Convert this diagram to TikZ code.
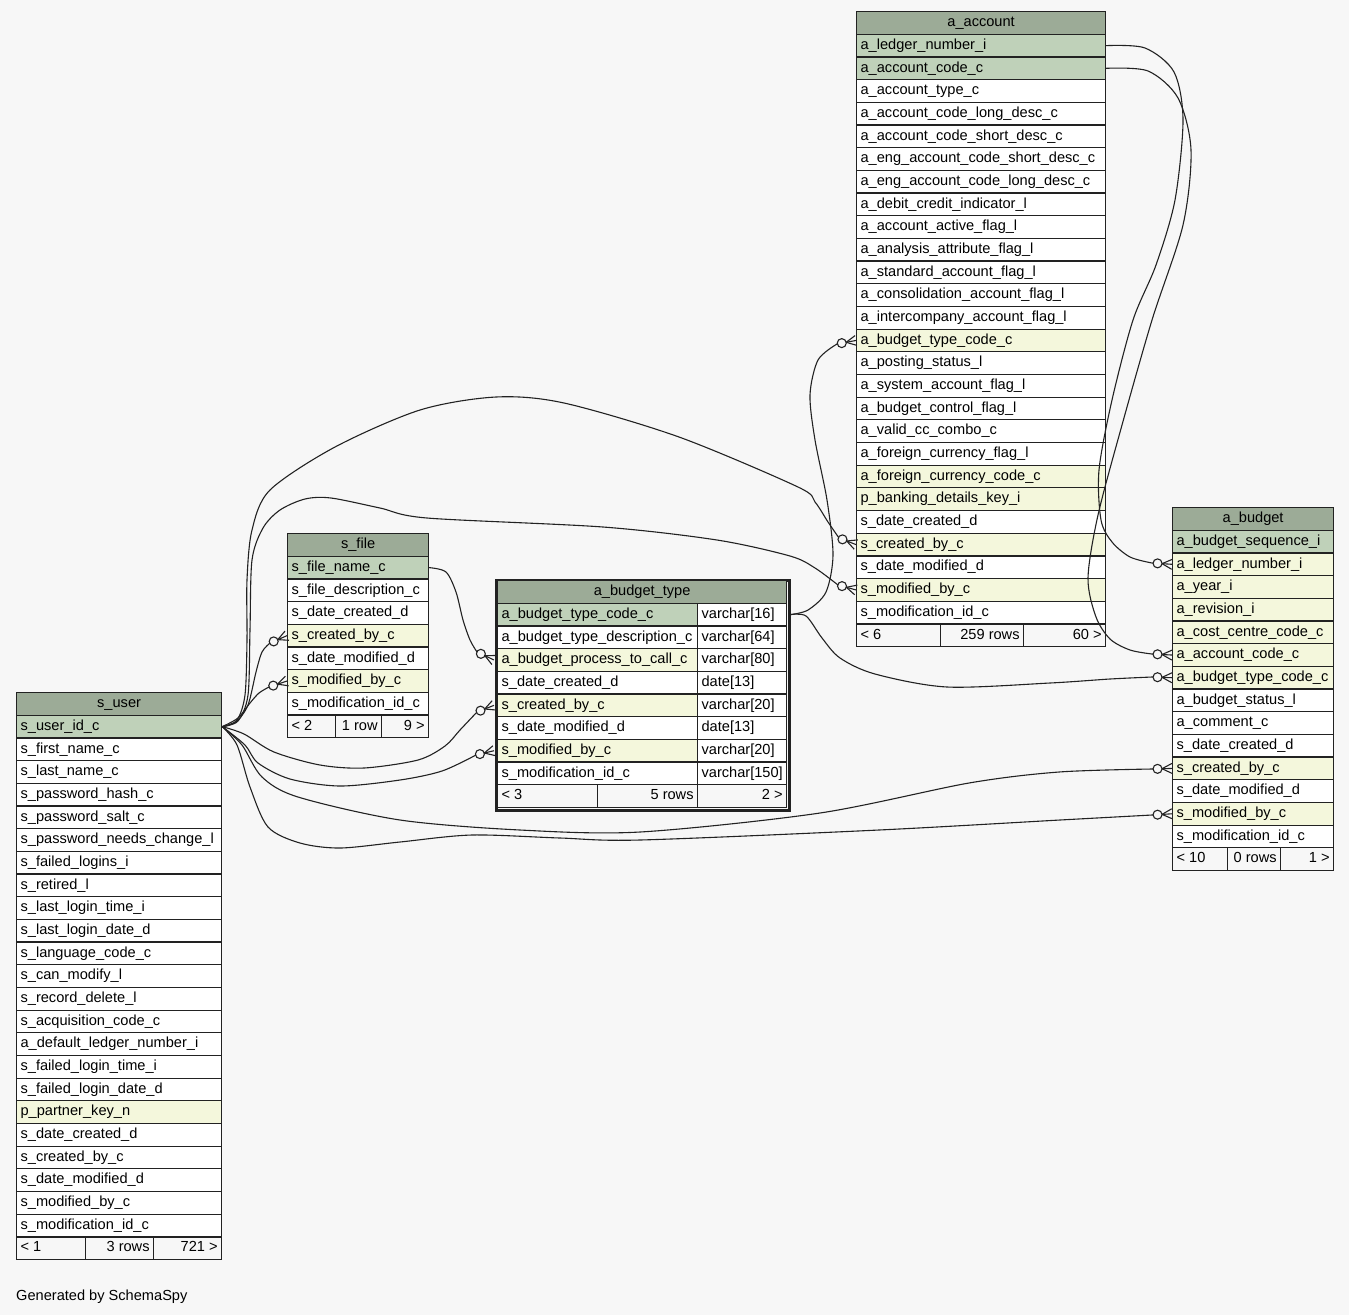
\documentclass[tikz,border=0pt]{standalone}
\usepackage{fontspec}
\setmainfont{Liberation Sans}
\usetikzlibrary{calc}
\definecolor{bgcol}{HTML}{F7F7F7}
\definecolor{hdrcol}{HTML}{9CAB97}
\definecolor{pkcol}{HTML}{BFD1B9}
\definecolor{fkcol}{HTML}{F4F7DC}
\definecolor{linecol}{HTML}{222222}
\newcommand\cellfont{\fontsize{14.6}{17}\selectfont}
\newcommand\rowh{22.68}
\tikzset{
  cellbase/.style={rectangle, draw=linecol, line width=1.2pt, anchor=north west,
    minimum height=22.68pt, inner xsep=4pt, inner ysep=0pt,
    text height=10.6pt, text depth=3.2pt, font=\cellfont, text=black},
  ck/.style={fill=pkcol}, cf/.style={fill=fkcol}, cn/.style={fill=white},
  rel/.style={draw=linecol, line width=1.1pt},
  crowline/.style={draw=linecol, line width=1.1pt},
  crowring/.style={draw=linecol, fill=bgcol, line width=1.1pt},
}
% crow's foot with open circle: #1 point before the end, #2 end point
\newcommand\crowat[2]{%
  \draw[crowline] ($#2!10pt!#1$) -- ($#2!5pt!90:#1$) ($#2!10pt!#1$) -- ($#2!5pt!-90:#1$);
  \draw[crowring] ($#2!14.5pt!#1$) circle (4.5pt);
}
% #1 prefix, #2 left, #3 right, #4 top, #5 title, #6 rows
\newcommand\mktable[6]{%
  \pgfmathsetmacro\tblw{#3-#2-8}%
  \node[cellbase, fill=hdrcol] (#1-0) at (#2,#4) {\makebox[\tblw pt][c]{#5}};
  \foreach [count=\i] \ctext/\ckind in {#6} {
    \node[cellbase, c\ckind] (#1-\i) at (#2,{#4+\i*\rowh}) {\makebox[\tblw pt][l]{\ctext}};
  }
}
% #1 prefix, #2 left, #3 d1, #4 d2, #5 right, #6 top, #7 #8 #9 texts
\newcommand\mkfoot[9]{%
  \pgfmathsetmacro\fwa{#3-#2-8}\pgfmathsetmacro\fwb{#4-#3-8}\pgfmathsetmacro\fwc{#5-#4-8}%
  \node[cellbase, fill=bgcol] (#1-a) at (#2,#6) {\makebox[\fwa pt][l]{#7}};
  \node[cellbase, fill=bgcol] (#1-b) at (#3,#6) {\makebox[\fwb pt][r]{#8}};
  \node[cellbase, fill=bgcol] (#1-c) at (#4,#6) {\makebox[\fwc pt][r]{#9}};
}
\begin{document}
\begin{tikzpicture}[x=1pt, y=-1pt]
\fill[bgcol] (0,0) rectangle (1349,1315);
\useasboundingbox (0,0) rectangle (1349,1315);

% a_account
\mktable{acc}{856}{1105}{11}{a\_account}{
a\_ledger\_number\_i/k,
a\_account\_code\_c/k,
a\_account\_type\_c/n,
a\_account\_code\_long\_desc\_c/n,
a\_account\_code\_short\_desc\_c/n,
a\_eng\_account\_code\_short\_desc\_c/n,
a\_eng\_account\_code\_long\_desc\_c/n,
a\_debit\_credit\_indicator\_l/n,
a\_account\_active\_flag\_l/n,
a\_analysis\_attribute\_flag\_l/n,
a\_standard\_account\_flag\_l/n,
a\_consolidation\_account\_flag\_l/n,
a\_intercompany\_account\_flag\_l/n,
a\_budget\_type\_code\_c/f,
a\_posting\_status\_l/n,
a\_system\_account\_flag\_l/n,
a\_budget\_control\_flag\_l/n,
a\_valid\_cc\_combo\_c/n,
a\_foreign\_currency\_flag\_l/n,
a\_foreign\_currency\_code\_c/f,
p\_banking\_details\_key\_i/f,
s\_date\_created\_d/n,
s\_created\_by\_c/f,
s\_date\_modified\_d/n,
s\_modified\_by\_c/f,
s\_modification\_id\_c/n}
\mkfoot{accf}{856}{940}{1023}{1105}{623.36}{< 6}{259 rows}{60 >}

% a_budget
\mktable{bud}{1172}{1333}{507}{a\_budget}{
a\_budget\_sequence\_i/k,
a\_ledger\_number\_i/f,
a\_year\_i/f,
a\_revision\_i/f,
a\_cost\_centre\_code\_c/f,
a\_account\_code\_c/f,
a\_budget\_type\_code\_c/f,
a\_budget\_status\_l/n,
a\_comment\_c/n,
s\_date\_created\_d/n,
s\_created\_by\_c/f,
s\_date\_modified\_d/n,
s\_modified\_by\_c/f,
s\_modification\_id\_c/n}
\mkfoot{budf}{1172}{1227}{1280}{1333}{847.2}{< 10}{0 rows}{1 >}

% s_file
\mktable{sf}{287}{428}{533}{s\_file}{
s\_file\_name\_c/k,
s\_file\_description\_c/n,
s\_date\_created\_d/n,
s\_created\_by\_c/f,
s\_date\_modified\_d/n,
s\_modified\_by\_c/f,
s\_modification\_id\_c/n}
\mkfoot{sff}{287}{335}{381}{428}{714.44}{< 2}{1 row}{9 >}

% s_user
\mktable{su}{16}{221}{692}{s\_user}{
s\_user\_id\_c/k,
s\_first\_name\_c/n,
s\_last\_name\_c/n,
s\_password\_hash\_c/n,
s\_password\_salt\_c/n,
s\_password\_needs\_change\_l/n,
s\_failed\_logins\_i/n,
s\_retired\_l/n,
s\_last\_login\_time\_i/n,
s\_last\_login\_date\_d/n,
s\_language\_code\_c/n,
s\_can\_modify\_l/n,
s\_record\_delete\_l/n,
s\_acquisition\_code\_c/n,
a\_default\_ledger\_number\_i/n,
s\_failed\_login\_time\_i/n,
s\_failed\_login\_date\_d/n,
p\_partner\_key\_n/f,
s\_date\_created\_d/n,
s\_created\_by\_c/n,
s\_date\_modified\_d/n,
s\_modified\_by\_c/n,
s\_modification\_id\_c/n}
\mkfoot{suf}{16}{85}{153}{221}{1236.32}{< 1}{3 rows}{721 >}

% a_budget_type (focused table, double border)
\node[draw=linecol, line width=3pt, minimum width=292.5pt, minimum height=230pt,
      anchor=north west, inner sep=0pt] (btframe) at (495,578.5) {};
\node[cellbase, fill=hdrcol] (bt-0) at (497,580) {\makebox[281pt][c]{a\_budget\_type}};
\foreach [count=\i] \ctext/\ctype/\ckind in {
a\_budget\_type\_code\_c/varchar[16]/k,
a\_budget\_type\_description\_c/varchar[64]/n,
a\_budget\_process\_to\_call\_c/varchar[80]/f,
s\_date\_created\_d/date[13]/n,
s\_created\_by\_c/varchar[20]/f,
s\_date\_modified\_d/date[13]/n,
s\_modified\_by\_c/varchar[20]/f,
s\_modification\_id\_c/varchar[150]/n} {
  \node[cellbase, c\ckind] (bt-\i) at (497,{580+\i*\rowh}) {\makebox[192pt][l]{\ctext}};
  \node[cellbase, fill=white] (btt-\i) at (697,{580+\i*\rowh}) {\makebox[81pt][l]{\ctype}};
}
\mkfoot{btf}{497}{597}{697}{786}{784.12}{< 3}{5 rows}{2 >}

\coordinate (btR1) at ([xshift=3pt]btt-1.east);
\coordinate (btL3) at ([xshift=-3pt]bt-3.west);
\coordinate (btL5) at ([xshift=-3pt]bt-5.west);
\coordinate (btL7) at ([xshift=-3pt]bt-7.west);

% relationships
\draw[rel] plot[smooth] coordinates {(acc-1.east) (1145,48) (1174,72) (1183,120) (1175,200) (1156,265) (1133,320) (1112,400) (1099,470) (1101,520) (1112,542) (1130,557) (1152,563)} -- (bud-2.west);
\crowat{(1152,563)}{(bud-2.west)}
\draw[rel] plot[smooth] coordinates {(acc-2.east) (1148,71) (1178,98) (1191,150) (1183,225) (1152,320) (1122,425) (1098,515) (1088,578) (1096,617) (1110,639) (1130,650) (1152,654)} -- (bud-6.west);
\crowat{(1152,654)}{(bud-6.west)}
\draw[rel] plot[smooth] coordinates {(btR1) (808,610) (826,592) (833,555) (827,500) (815,440) (810,395) (818,360) (837,344)} -- (acc-14.west);
\crowat{(837,344)}{(acc-14.west)}
\draw[rel] plot[smooth] coordinates {(btR1) (806,616) (822,638) (840,658) (875,674) (947,687) (1050,683) (1110,679) (1152,677)} -- (bud-7.west);
\crowat{(1152,677)}{(bud-7.west)}
\draw[rel] plot[smooth] coordinates {(sf-1.east) (446,572) (456,592) (463,620) (470,640) (477,652)} -- (btL3);
\crowat{(477,652)}{(btL3)}
\draw[rel] plot[smooth] coordinates {(su-1.east) (236,722) (248,705) (256,672) (262,652) (270,643)} -- (sf-4.west);
\crowat{(270,643)}{(sf-4.west)}
\draw[rel] plot[smooth] coordinates {(su-1.east) (238,718) (250,703) (259,693) (269,687)} -- (sf-6.west);
\crowat{(269,687)}{(sf-6.west)}
\draw[rel] plot[smooth] coordinates {(su-1.east) (237,720) (245,695) (247,640) (247,580) (252,530) (270,490) (335,447) (420,410) (496,397) (564,403) (679,437) (798,487) (815,502) (828,522) (839,538)} -- (acc-23.west);
\crowat{(839,538)}{(acc-23.west)}
\draw[rel] plot[smooth] coordinates {(su-1.east) (238,721) (248,695) (250,630) (252,560) (263,528) (280,510) (305,499) (331,498) (380,508) (427,518) (603,527) (717,540) (790,556) (815,568) (838,585)} -- (acc-25.west);
\crowat{(838,585)}{(acc-25.west)}
\draw[rel] plot[smooth] coordinates {(su-1.east) (244,734) (274,752) (320,765) (364,768) (418,760) (445,746) (460,730) (477,712)} -- (btL5);
\crowat{(477,712)}{(btL5)}
\draw[rel] plot[smooth] coordinates {(su-1.east) (245,745) (258,763) (290,779) (340,786) (400,780) (442,771) (476,755)} -- (btL7);
\crowat{(476,755)}{(btL7)}
\draw[rel] plot[smooth] coordinates {(su-1.east) (242,745) (262,777) (298,797) (400,820) (520,830) (640,832) (820,813) (969,783) (1059,772) (1152,769)} -- (bud-11.west);
\crowat{(1152,769)}{(bud-11.west)}
\draw[rel] plot[smooth] coordinates {(su-1.east) (237,745) (250,787) (268,827) (300,843) (340,848) (400,842) (472,835) (560,838) (640,840) (879,830) (1060,820) (1152,815)} -- (bud-13.west);
\crowat{(1152,815)}{(bud-13.west)}

\node[anchor=base west, font=\cellfont, inner sep=0pt] (gen) at (16,1300) {Generated by SchemaSpy};
\end{tikzpicture}
\end{document}
